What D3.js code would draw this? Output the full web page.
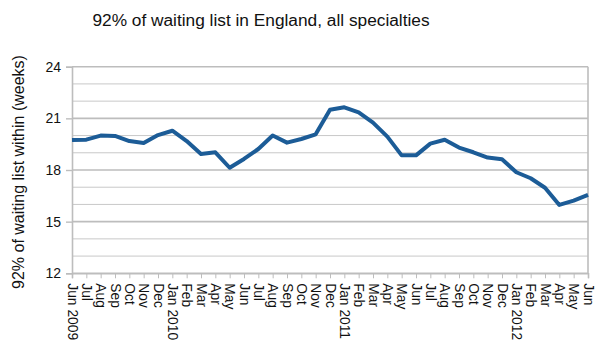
<!DOCTYPE html>
<html><head><meta charset="utf-8">
<script src="https://cdn.jsdelivr.net/npm/d3@7"></script>
<style>body{margin:0;background:#fff;} svg{display:block;font-family:"Liberation Sans",Arial,sans-serif;}</style>
</head><body>
<svg id="c" width="605" height="356"></svg>
<script>
const categories = ["Jun 2009","Jul","Aug","Sep","Oct","Nov","Dec","Jan 2010","Feb","Mar","Apr","May","Jun","Jul","Aug","Sep","Oct","Nov","Dec","Jan 2011","Feb","Mar","Apr","May","Jun","Jul","Aug","Sep","Oct","Nov","Dec","Jan 2012","Feb","Mar","Apr","May","Jun"];
const values = [19.74,19.76,20.0,19.98,19.68,19.57,20.03,20.28,19.68,18.93,19.03,18.13,18.64,19.22,20.0,19.59,19.8,20.07,21.5,21.64,21.35,20.75,19.94,18.85,18.85,19.53,19.76,19.3,19.03,18.72,18.62,17.87,17.52,16.97,15.97,16.22,16.55];
const yMajorTicks = [12,15,18,21,24];
const yMinorTicks = [13,14,16,17,19,20,22,23];
const title = "92% of waiting list in England, all specialties";
const yTitle = "92% of waiting list within (weeks)";

const svg = d3.select("#c");
const L = 72, R = 588, T = 66.7, B = 273.3;
const x = d3.scalePoint().domain(d3.range(categories.length)).range([L, R]);
const y = d3.scaleLinear().domain([12, 24]).range([B, T]);

// minor gridlines
svg.append("g").selectAll("line").data(yMinorTicks).join("line")
  .attr("x1", L).attr("x2", R).attr("y1", d => y(d)).attr("y2", d => y(d))
  .attr("stroke", "#c8c8c8").attr("stroke-width", 1);
// major gridlines
svg.append("g").selectAll("line").data(yMajorTicks).join("line")
  .attr("x1", L).attr("x2", R).attr("y1", d => y(d)).attr("y2", d => y(d))
  .attr("stroke", "#bdbdbd").attr("stroke-width", 1.6);
// right border
svg.append("line").attr("x1", R).attr("x2", R).attr("y1", T).attr("y2", B)
  .attr("stroke", "#bdbdbd").attr("stroke-width", 1.6);

// y axis
const ya = svg.append("g").attr("transform", `translate(${L},0)`)
  .call(d3.axisLeft(y).tickValues(yMajorTicks).tickSize(6).tickPadding(5).tickFormat(d3.format("d")));
ya.select(".domain").attr("stroke", "#bdbdbd").attr("stroke-width", 1.6);
ya.selectAll(".tick line").attr("stroke", "#bdbdbd").attr("stroke-width", 1.4);
ya.selectAll(".tick text").attr("font-size", 14).attr("fill", "#111")
  .attr("font-family", "Liberation Sans, Arial, sans-serif");

// x axis
const xa = svg.append("g").attr("transform", `translate(0,${B})`)
  .call(d3.axisBottom(x).tickSize(5).tickFormat(i => categories[i]));
xa.select(".domain").attr("stroke", "#bdbdbd").attr("stroke-width", 1.6);
xa.selectAll(".tick line").attr("stroke", "#bdbdbd");
xa.selectAll(".tick text")
  .attr("font-size", 13.8).attr("fill", "#111")
  .attr("font-family", "Liberation Sans, Arial, sans-serif")
  .attr("text-anchor", "start").attr("dy", "0.35em")
  .attr("transform", "translate(0,4) rotate(90)")
  .attr("x", 6).attr("y", 0);

// line
const line = d3.line().x((d, i) => x(i)).y(d => y(d));
svg.append("path").datum(values).attr("d", line)
  .attr("fill", "none").attr("stroke", "#1c5c97").attr("stroke-width", 4)
  .attr("stroke-linejoin", "round");

// titles
svg.append("text").attr("x", 261).attr("y", 26).attr("text-anchor", "middle")
  .attr("font-size", 17.3).attr("fill", "#111").text(title);
svg.append("text").attr("transform", `translate(24,172) rotate(-90)`)
  .attr("text-anchor", "middle").attr("font-size", 16).attr("fill", "#111").text(yTitle);
</script>
</body></html>
